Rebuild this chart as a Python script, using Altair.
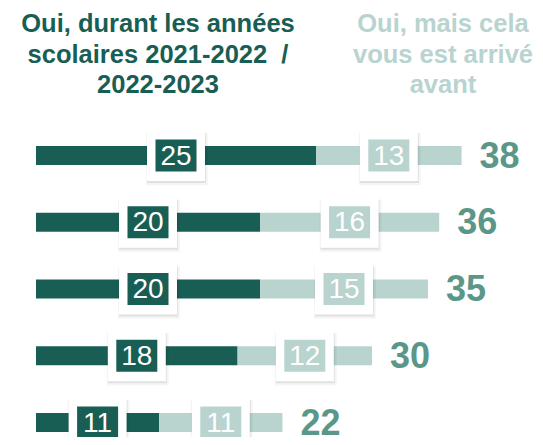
import altair as alt
import pandas as pd

rows = ["r1", "r2", "r3", "r4", "r5"]
dark_vals = [25, 20, 20, 18, 11]
light_vals = [13, 16, 15, 12, 11]
totals = [38, 36, 35, 30, 22]

header_dark = ["Oui, durant les années", "scolaires 2021-2022\u00a0 /", "2022-2023"]
header_light = ["Oui, mais cela", "vous est arrivé", "avant"]

DARK = "#185e54"
LIGHT = "#b9d3cf"
TOTAL = "#5b9789"
FONT = "Liberation Sans"

seg = []
for r, d, l in zip(rows, dark_vals, light_vals):
    seg.append({"row": r, "serie": "dark", "value": d, "start": 0, "end": d, "mid": d / 2})
    seg.append({"row": r, "serie": "light", "value": l, "start": d, "end": d + l, "mid": d + l / 2})
seg_df = pd.DataFrame(seg)
tot_df = pd.DataFrame({"row": rows, "total": totals,
                       "end": [d + l for d, l in zip(dark_vals, light_vals)]})

xscale = alt.Scale(domain=[-2.5, 44.5536], nice=False, zero=False)
yscale = alt.Scale(domain=rows, range=[114.125, 447.875], paddingInner=0, paddingOuter=0)
color = alt.Color("serie:N", scale=alt.Scale(domain=["dark", "light"], range=[DARK, LIGHT]), legend=None)

X = lambda f: alt.X(f, type="quantitative", scale=xscale, axis=None)
Y = alt.Y("row:N", scale=yscale, axis=None)

bars = alt.Chart(seg_df).mark_bar(size=19).encode(
    x=X("start"), x2="end", y=Y, color=color
)

box_path = "M-1,-0.845L1,-0.845L1,0.845L-1,0.845Z"
inner_path = "M-1,-0.78L1,-0.78L1,0.78L-1,0.78Z"

shadow1 = alt.Chart(seg_df).mark_point(
    shape=box_path, size=62 ** 2, filled=True, color="#000000", opacity=0.04,
    strokeWidth=0, xOffset=1, yOffset=3.5
).encode(x=X("mid"), y=Y)
shadow2 = alt.Chart(seg_df).mark_point(
    shape=box_path, size=59 ** 2, filled=True, color="#000000", opacity=0.08,
    strokeWidth=0, xOffset=0.5, yOffset=2.5
).encode(x=X("mid"), y=Y)
whitebox = alt.Chart(seg_df).mark_point(
    shape=box_path, size=58 ** 2, filled=True, color="#ffffff", opacity=1,
    strokeWidth=0, yOffset=1
).encode(x=X("mid"), y=Y)
innerbox = alt.Chart(seg_df).mark_point(
    shape=inner_path, size=41 ** 2, filled=True, opacity=1, strokeWidth=0
).encode(x=X("mid"), y=Y, color=color)
labels = alt.Chart(seg_df).mark_text(
    font=FONT, fontSize=28, color="white", baseline="middle", align="center", dy=1
).encode(x=X("mid"), y=Y, text="value:Q")

total_text = alt.Chart(tot_df).mark_text(
    font=FONT, fontSize=36, fontWeight="bold", color=TOTAL, align="left",
    baseline="middle", dx=18, dy=1
).encode(x=X("end"), y=Y, text="total:Q")

one = pd.DataFrame({"a": [0]})
h1 = alt.Chart(one).mark_text(
    text=header_dark, font=FONT, fontSize=25.5, fontWeight="bold", color=DARK,
    align="center", baseline="alphabetic", lineHeight=30.5
).encode(x=alt.value(150), y=alt.value(24))
h2 = alt.Chart(one).mark_text(
    text=header_light, font=FONT, fontSize=25.5, fontWeight="bold", color=LIGHT,
    align="center", baseline="alphabetic", lineHeight=30.5
).encode(x=alt.value(435), y=alt.value(24))

chart = alt.layer(
    bars, shadow1, shadow2, whitebox, innerbox, labels, total_text, h1, h2
).properties(
    width=527, height=429, padding=0, autosize=alt.AutoSizeParams(type="none")
).configure_view(stroke=None)

chart.save("out.html", embed_options={"renderer": "svg", "actions": False})
